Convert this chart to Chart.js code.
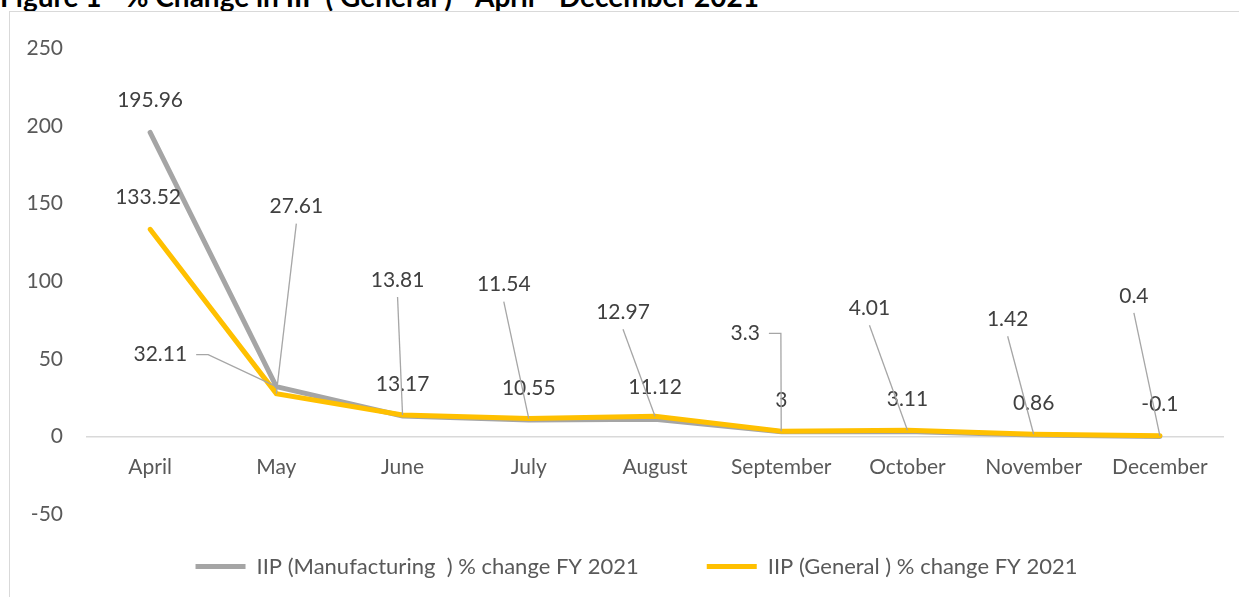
<!DOCTYPE html>
<html>
<head>
<meta charset="utf-8">
<script src="https://cdn.jsdelivr.net/npm/chart.js@4.4.1/dist/chart.umd.min.js"></script>
<style>
  body { margin: 0; background: #fff; overflow: hidden; }
  #title {
    position: absolute; left: 0; top: -18px;
    font: bold 28px Lato, sans-serif; line-height: 28px; color: #000; white-space: nowrap;
  }
  #box {
    position: absolute; left: 9px; top: 11px;
    width: 1229px; height: 585px;
    border-left: 1px solid #d9d9d9; border-top: 1px solid #d9d9d9;
    background: #fff;
  }
</style>
</head>
<body>
<div id="title">Figure 1 - % Change in IIP ( General ) - April - December 2021</div>
<div id="box"><canvas id="myChart"></canvas></div>
<script>
// data
const months = ['April', 'May', 'June', 'July', 'August', 'September', 'October', 'November', 'December'];
const manufacturing = [195.96, 32.11, 13.17, 10.55, 11.12, 3, 3.11, 0.86, -0.1];
const general = [133.52, 27.61, 13.81, 11.54, 12.97, 3.3, 4.01, 1.42, 0.4];
const yTicks = [-50, 0, 50, 100, 150, 200, 250];

const seriesNames = ['IIP (Manufacturing  ) % change FY 2021', 'IIP (General ) % change FY 2021'];

// label offsets from the point (dx, dy, leader type) - like excel's dragged labels
const labelOffsets = [
    [[0, -32], [-116, -32, 'elbow'], [0, -32], [0, -32], [0, -32], [0, -32], [0, -32], [0, -32], [0, -32]],
    [[-2, -32], [20, -187, 'line'], [-5, -135, 'line'], [-25, -134, 'line'], [-32, -104, 'line'],
     [-36, -98, 'elbow'], [-38, -122, 'line'], [-26, -115, 'line'], [-26, -140, 'line']]
];

const pointLabels = {
    id: 'pointLabels',
    afterLayout(chart) {
        // nudge the centred legend a bit to the right, like the original
        chart.legend.left += 40;
    },
    afterDatasetsDraw(chart) {
        const ctx = chart.ctx;
        ctx.save();
        ctx.font = '21px Lato';
        ctx.textAlign = 'center';
        ctx.textBaseline = 'middle';
        chart.data.datasets.forEach(function (ds, di) {
            const meta = chart.getDatasetMeta(di);
            meta.data.forEach(function (pt, i) {
                const off = labelOffsets[di][i];
                const lx = pt.x + off[0];
                const ly = pt.y + off[1];
                const txt = String(ds.data[i]);
                ctx.strokeStyle = '#a6a6a6';
                ctx.lineWidth = 1.3;
                if (off[2] == 'line') {
                    ctx.beginPath();
                    ctx.moveTo(lx, ly + 17);
                    ctx.lineTo(pt.x, pt.y);
                    ctx.stroke();
                } else if (off[2] == 'elbow') {
                    const sx = lx + ctx.measureText(txt).width / 2 + 9;
                    ctx.beginPath();
                    ctx.moveTo(sx, ly);
                    ctx.lineTo(sx + 12, ly);
                    ctx.lineTo(pt.x, pt.y);
                    ctx.stroke();
                }
                ctx.fillStyle = '#404040';
                ctx.fillText(txt, lx, ly);
            });
        });
        ctx.restore();
    }
};

const data = {
    labels: months,
    datasets: [{
        label: seriesNames[0],
        data: manufacturing,
        borderColor: '#a5a5a5',
        backgroundColor: '#a5a5a5',
        borderWidth: 5,
        borderCapStyle: 'round',
        pointRadius: 0,
        tension: 0,
        order: 1
    }, {
        label: seriesNames[1],
        data: general,
        borderColor: '#ffc000',
        backgroundColor: '#ffc000',
        borderWidth: 5,
        borderCapStyle: 'round',
        pointRadius: 0,
        tension: 0,
        order: 0
    }]
};

const config = {
    type: 'line',
    data,
    plugins: [pointLabels],
    options: {
        responsive: true,
        maintainAspectRatio: false,
        animation: false,
        layout: { padding: { top: 30, right: 16, bottom: 9.5, left: 0 } },
        plugins: {
            tooltip: { enabled: false },
            legend: {
                position: 'bottom',
                // empty title used only to push the legend row down
                title: { display: true, text: '', font: { size: 10 }, padding: { top: 0, bottom: -38.5 } },
                labels: {
                    usePointStyle: true,
                    pointStyle: 'line',
                    pointStyleWidth: 50,
                    padding: 68,
                    color: '#595959',
                    font: { family: 'Lato', size: 22 },
                    sort: (a, b) => a.datasetIndex - b.datasetIndex
                }
            }
        },
        scales: {
            x: {
                axis: 'x',
                position: { y: 0 },
                offset: true,
                grid: { display: false, drawTicks: false },
                border: { color: '#d9d9d9', width: 1.5 },
                ticks: {
                    color: '#595959', font: { family: 'Lato', size: 21 },
                    padding: 18, maxRotation: 0, autoSkip: false
                }
            },
            y: {
                min: -50,
                max: 250,
                afterBuildTicks: (scale) => { scale.ticks = yTicks.map(v => ({ value: v })); },
                afterFit: (scale) => { scale.width = 77; },
                grid: { display: false, drawTicks: false },
                border: { display: false },
                ticks: { color: '#595959', font: { family: 'Lato', size: 21 }, padding: 24 }
            }
        }
    }
};

const myChart = new Chart(document.getElementById('myChart'), config);
</script>
</body>
</html>
